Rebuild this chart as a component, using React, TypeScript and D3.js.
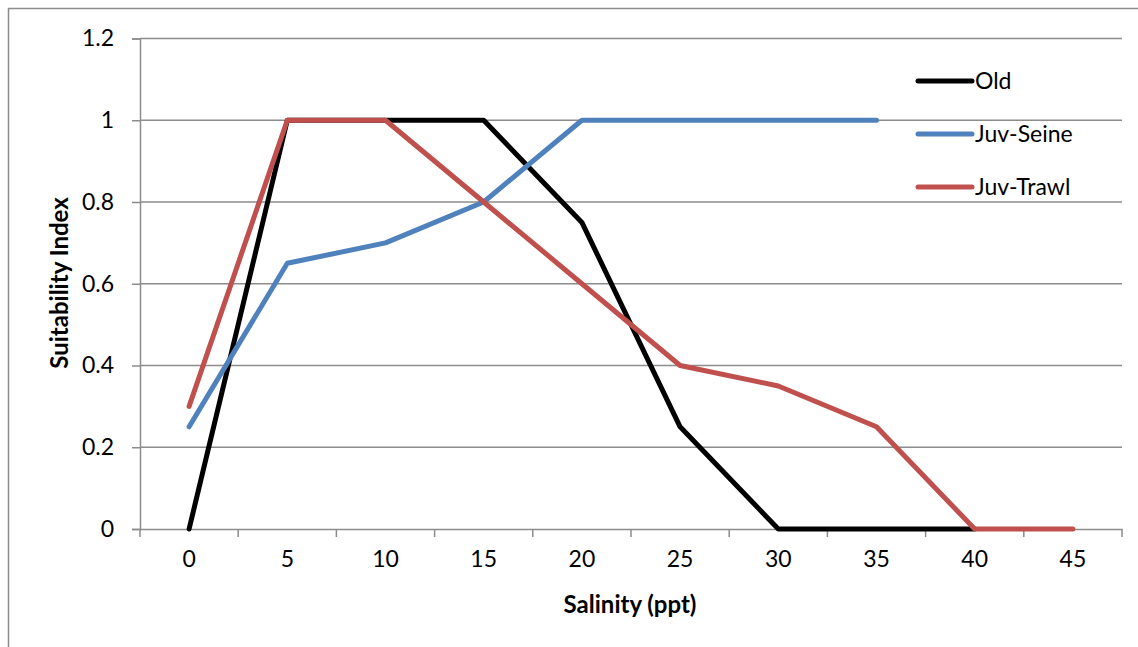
import React, { useEffect, useRef } from "react";
import * as d3 from "d3";

// salinity categories (ppt)
const salinity = ["0", "5", "10", "15", "20", "25", "30", "35", "40", "45"];
const oldValues = [0, 1, 1, 1, 0.75, 0.25, 0, 0, 0, null];
const juvSeine = [0.25, 0.65, 0.7, 0.8, 1, 1, 1, 1, null, null];
const juvTrawl = [0.3, 1, 1, 0.8, 0.6, 0.4, 0.35, 0.25, 0, 0];
const yTicks = [0, 0.2, 0.4, 0.6, 0.8, 1, 1.2];

const seriesNames = ["Old", "Juv-Seine", "Juv-Trawl"];
const seriesColors = ["#000000", "#4F81BD", "#C0504D"];

const FONT = "Lato, Calibri, 'Open Sans', sans-serif";

function App() {
  const ref = useRef<SVGSVGElement>(null);

  useEffect(() => {
    const W = 1138,
      H = 647;
    const margin = { top: 38.5, right: 16, bottom: 118, left: 140 };
    const w = W - margin.left - margin.right,
      h = H - margin.top - margin.bottom;

    const svg = d3.select(ref.current).attr("width", W).attr("height", H);
    svg.selectAll("*").remove();

    // chart frame (top and left edges visible)
    svg
      .append("path")
      .attr("d", `M8.5,${H} V8.5 H${W}`)
      .attr("fill", "none")
      .attr("stroke", "#8c8c8c")
      .attr("stroke-width", 1.5);

    const g = svg
      .append("g")
      .attr("transform", `translate(${margin.left}, ${margin.top})`);

    const x_scale = d3.scaleBand().domain(salinity).range([0, w]).padding(0);
    const y_scale = d3.scaleLinear().domain([0, 1.2]).range([h, 0]);

    // gridlines
    g.selectAll(".grid")
      .data(yTicks.filter(d => d > 0))
      .join("line")
      .attr("class", "grid")
      .attr("x1", 0)
      .attr("x2", w)
      .attr("y1", d => y_scale(d))
      .attr("y2", d => y_scale(d))
      .attr("stroke", "#8c8c8c")
      .attr("stroke-width", 1.5);

    // Y axis
    const yAxis = g
      .append("g")
      .call(
        d3
          .axisLeft(y_scale)
          .tickValues(yTicks)
          .tickSize(8)
          .tickPadding(18)
          .tickFormat(d => String(d))
      );
    yAxis.select(".domain").attr("stroke", "#8c8c8c").attr("stroke-width", 1.5);
    yAxis.selectAll(".tick line").attr("stroke", "#8c8c8c").attr("stroke-width", 1.5);
    yAxis
      .selectAll(".tick text")
      .attr("font-family", FONT)
      .attr("font-size", 23)
      .attr("fill", "#000");

    // X axis: ticks between categories
    const xAxis = g
      .append("g")
      .attr("transform", `translate(0, ${h})`)
      .call(d3.axisBottom(x_scale).tickSize(0).tickPadding(22));
    xAxis.select(".domain").attr("stroke", "#8c8c8c").attr("stroke-width", 1.5);
    xAxis
      .selectAll(".tick text")
      .attr("font-family", FONT)
      .attr("font-size", 23)
      .attr("fill", "#000");
    xAxis
      .selectAll(".sep")
      .data(d3.range(salinity.length + 1))
      .join("line")
      .attr("class", "sep")
      .attr("x1", i => i * x_scale.bandwidth())
      .attr("x2", i => i * x_scale.bandwidth())
      .attr("y1", 0)
      .attr("y2", 8)
      .attr("stroke", "#8c8c8c")
      .attr("stroke-width", 1.5);

    // lines
    const allSeries = [oldValues, juvSeine, juvTrawl];
    const line = d3
      .line<number | null>()
      .defined(d => d !== null)
      .x((d, i) => (x_scale(salinity[i]) as number) + x_scale.bandwidth() / 2)
      .y(d => y_scale(d as number));

    g.selectAll(".series")
      .data(allSeries)
      .join("path")
      .attr("class", "series")
      .attr("d", d => line(d))
      .attr("fill", "none")
      .attr("stroke", (d, i) => seriesColors[i])
      .attr("stroke-width", 5)
      .attr("stroke-linejoin", "round")
      .attr("stroke-linecap", "round");

    // legend
    const legend = svg
      .append("g")
      .attr("transform", "translate(918, 81)");
    const items = legend
      .selectAll(".item")
      .data(seriesNames)
      .join("g")
      .attr("class", "item")
      .attr("transform", (d, i) => `translate(0, ${i * 53})`);
    items
      .append("line")
      .attr("x1", 0)
      .attr("x2", 54)
      .attr("stroke", (d, i) => seriesColors[i])
      .attr("stroke-width", 5)
      .attr("stroke-linecap", "round");
    items
      .append("text")
      .attr("x", 57)
      .attr("dy", "0.35em")
      .attr("font-family", FONT)
      .attr("font-size", 23)
      .text(d => d);

    // axis titles
    svg
      .append("text")
      .attr("x", margin.left + w / 2 - 1)
      .attr("y", 613)
      .attr("text-anchor", "middle")
      .attr("font-family", FONT)
      .attr("font-weight", "bold")
      .attr("font-size", 24)
      .text("Salinity (ppt)");
    svg
      .append("text")
      .attr("transform", "translate(68, 283) rotate(-90)")
      .attr("text-anchor", "middle")
      .attr("font-family", FONT)
      .attr("font-weight", "bold")
      .attr("font-size", 24)
      .text("Suitability Index");
  }, []);

  return (
    <svg ref={ref} style={{ position: "absolute", left: 0, top: 0 }}></svg>
  );
}

export default App;
